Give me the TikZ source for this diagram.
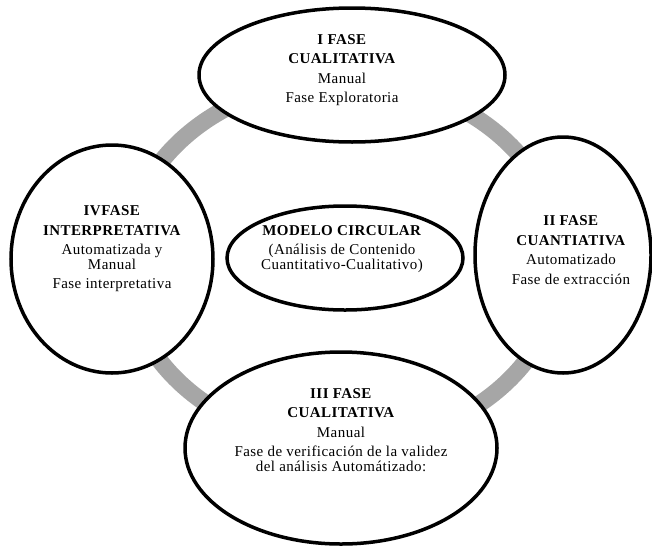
\documentclass[tikz,border=0pt]{standalone}
\usepackage{fontspec}
\setmainfont[LetterSpace=3]{Liberation Serif}
\usepackage{tikz}
\usetikzlibrary{shapes.geometric}
\usetikzlibrary{positioning}
\tikzset{
    fase node/.style={shape=ellipse,draw=black,fill=white,line width=3.5pt,inner sep=0},
    fase text/.style={align=center,font=\fontsize{15}{14.5}\selectfont,inner sep=0},
    ring line/.style={draw=black!35,line width=17pt}
}

\begin{document}
\begin{tikzpicture}[x=1pt,y=-1pt]
    \useasboundingbox (0,0) rectangle (652,546);
    %ring behind the phases
    \draw[ring line] (343,262) ellipse [x radius=218, y radius=182];
    \node(I)[fase node,minimum width=306,minimum height=134] at (352,75) {};
    \node(II)[fase node,minimum width=176,minimum height=236] at (563,255) {};
    \node(III)[fase node,minimum width=312,minimum height=192] at (341,448) {};
    \node(IV)[fase node,minimum width=202,minimum height=228] at (112,259) {};
    \node(M)[fase node,minimum width=236,minimum height=104] at (345,258) {};
    \node(I-t)[fase text,xshift=-10,yshift=5] at (I.center)
        {\textbf{I FASE}\\[5pt]\textbf{CUALITATIVA}\\[5pt]Manual\\[5pt]Fase Exploratoria};
    \node(II-t)[fase text,xshift=8,yshift=5] at (II.center)
        {\textbf{II FASE}\\[5pt]\textbf{CUANTIATIVA}\\[5pt]Automatizado\\[5pt]Fase de extracción};
    \node(III-t)[fase text,yshift=18] at (III.center)
        {\textbf{III FASE}\\[5pt]\textbf{CUALITATIVA}\\[5pt]Manual\\[5pt]Fase de verificación de la validez\\del análisis Automátizado:};
    \node(IV-t)[fase text,yshift=10] at (IV.center)
        {\textbf{IVFASE}\\[5pt]\textbf{INTERPRETATIVA}\\[5pt]Automatizada y\\Manual\\[5pt]Fase interpretativa};
    \node(M-t)[fase text,xshift=-3,yshift=9] at (M.center)
        {\textbf{MODELO CIRCULAR}\\[5pt](Análisis de Contenido\\Cuantitativo-Cualitativo)};
\end{tikzpicture}
\end{document}
